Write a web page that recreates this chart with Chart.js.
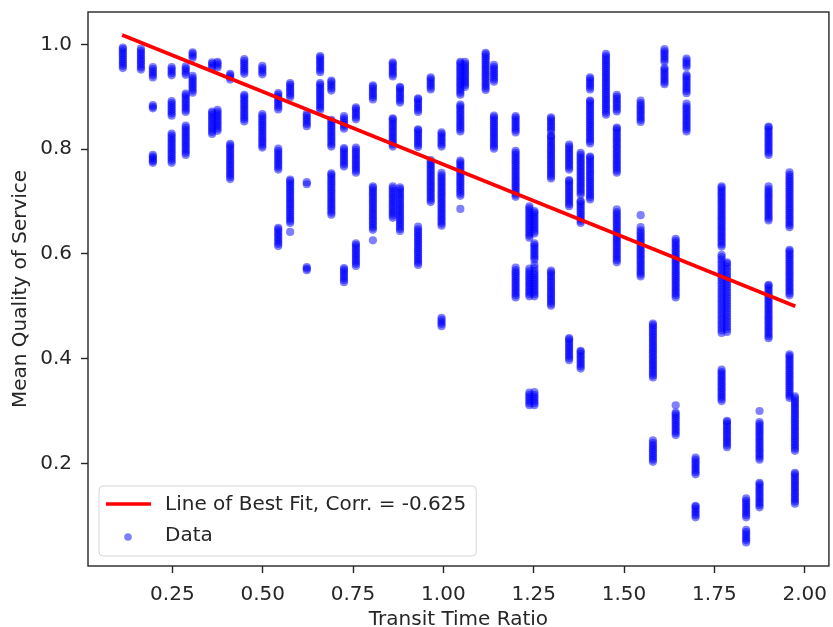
<!DOCTYPE html>
<html>
<head>
<meta charset="utf-8">
<script src="https://cdn.jsdelivr.net/npm/chart.js@4.4.1/dist/chart.umd.min.js"></script>
<style>
  html, body { margin: 0; padding: 0; background: #fff; }
  #wrap { width: 833px; height: 627px; position: relative; }
</style>
</head>
<body>
<div id="wrap"><canvas id="chart"></canvas></div>
<script>
// x position of each column of points (transit time ratio)
const transitRatio = [
    0.113, 0.163, 0.196, 0.248, 0.287, 0.306, 0.36, 0.375, 0.41, 0.449,
    0.499, 0.543, 0.576, 0.622, 0.659, 0.69, 0.725, 0.758, 0.805, 0.86,
    0.88, 0.93, 0.965, 0.995, 1.047, 1.06, 1.117, 1.14, 1.2, 1.238,
    1.252, 1.298, 1.348, 1.38, 1.406, 1.45, 1.48, 1.546, 1.58, 1.612,
    1.643, 1.673, 1.698, 1.77, 1.785, 1.838, 1.875, 1.9, 1.958, 1.973
];

// mean quality of service values, one list per column above
const qualityByRatio = [
    [0.955,0.959,0.963,0.967,0.971,0.975,0.979,0.983,0.987,0.991,0.994],
    [0.952,0.956,0.960,0.964,0.968,0.972,0.976,0.980,0.984,0.988,0.992],
    [0.937,0.941,0.945,0.949,0.953,0.957, 0.878,0.881,0.884, 0.774,0.777,0.780,0.783,0.786,0.789],
    [0.941,0.945,0.949,0.953,0.957, 0.864,0.868,0.872,0.876,0.880,0.884,0.888,0.892,
     0.774,0.778,0.782,0.786,0.790,0.794,0.798,0.802,0.806,0.810,0.814,0.818,0.822,0.826,0.830],
    [0.942,0.946,0.950,0.954,0.958, 0.871,0.875,0.879,0.883,0.887,0.891,0.895,0.899,0.903,0.906,
     0.789,0.793,0.797,0.801,0.805,0.809,0.813,0.817,0.821,0.825,0.829,0.833,0.837,0.841,0.845],
    [0.974,0.978,0.982,0.985, 0.908,0.912,0.916,0.920,0.924,0.928,0.932,0.936,0.940],
    [0.955,0.959,0.963,0.966, 0.829,0.833,0.837,0.841,0.845,0.849,0.853,0.857,0.861,0.865,0.869,0.872],
    [0.956,0.960,0.964,0.967, 0.835,0.839,0.843,0.847,0.851,0.855,0.859,0.863,0.867,0.871,0.875],
    [0.933,0.937,0.941,0.944, 0.743,0.747,0.751,0.755,0.759,0.763,0.767,0.771,0.775,0.779,0.783,0.787,0.791,0.795,0.799,0.803,0.807,0.810],
    [0.944,0.948,0.952,0.956,0.960,0.964,0.968,0.972,
     0.853,0.857,0.861,0.865,0.869,0.873,0.877,0.881,0.885,0.889,0.893,0.897,0.901,0.904],
    [0.943,0.947,0.951,0.955,0.959,
     0.803,0.807,0.811,0.815,0.819,0.823,0.827,0.831,0.835,0.839,0.843,0.847,0.851,0.855,0.859,0.863,0.867],
    [0.876,0.880,0.884,0.888,0.892,0.896,0.900,0.904,0.907,
     0.761,0.765,0.769,0.773,0.777,0.781,0.785,0.789,0.793,0.797,0.801,
     0.615,0.619,0.623,0.627,0.631,0.635,0.639,0.643,0.647,0.650],
    [0.899,0.903,0.907,0.911,0.915,0.919,0.923,0.926,
     0.659,0.663,0.667,0.671,0.675,0.679,0.683,0.687,0.691,0.695,0.699,0.703,0.707,0.711,0.715,0.719,0.723,0.727,0.731,0.735,0.739,0.742,
     0.642],
    [0.844,0.848,0.852,0.856,0.860,0.864,0.868, 0.733,0.737, 0.569,0.572,0.575],
    [0.947,0.951,0.955,0.959,0.963,0.967,0.971,0.975,0.978,
     0.875,0.879,0.883,0.887,0.891,0.895,0.899,0.903,0.907,0.911,0.915,0.919,0.923,0.926],
    [0.912,0.916,0.920,0.924,0.928,0.931,
     0.805,0.809,0.813,0.817,0.821,0.825,0.829,0.833,0.837,0.841,0.845,0.849,0.853,0.856,
     0.675,0.679,0.683,0.687,0.691,0.695,0.699,0.703,0.707,0.711,0.715,0.719,0.723,0.727,0.731,0.735,0.739,0.743,0.747,0.751,0.754],
    [0.839,0.843,0.847,0.851,0.855,0.859,0.863,
     0.767,0.771,0.775,0.779,0.783,0.787,0.791,0.795,0.799,0.802,
     0.546,0.550,0.554,0.558,0.562,0.566,0.570,0.573],
    [0.857,0.861,0.865,0.869,0.873,0.877,0.880,
     0.755,0.759,0.763,0.767,0.771,0.775,0.779,0.783,0.787,0.791,0.795,0.799,0.803,
     0.577,0.581,0.585,0.589,0.593,0.597,0.601,0.605,0.609,0.613,0.617,0.620],
    [0.895,0.899,0.903,0.907,0.911,0.915,0.919,0.922,
     0.646,0.650,0.654,0.658,0.662,0.666,0.670,0.674,0.678,0.682,0.686,0.690,0.694,0.698,0.702,0.706,0.710,0.714,0.718,0.722,0.726,0.729,
     0.626],
    [0.939,0.943,0.947,0.951,0.955,0.959,0.963,0.966,
     0.805,0.809,0.813,0.817,0.821,0.825,0.829,0.833,0.837,0.841,0.845,0.849,0.853,0.857,0.859,
     0.669,0.673,0.677,0.681,0.685,0.689,0.693,0.697,0.701,0.705,0.709,0.713,0.717,0.721,0.725,0.729],
    [0.889,0.893,0.897,0.901,0.905,0.909,0.913,0.917,0.919,
     0.644,0.648,0.652,0.656,0.660,0.664,0.668,0.672,0.676,0.680,0.684,0.688,0.692,0.696,0.700,0.704,0.708,0.712,0.716,0.720,0.724,0.727],
    [0.871,0.875,0.879,0.883,0.887,0.891,0.895,0.897,
     0.804,0.808,0.812,0.816,0.820,0.824,0.828,0.832,0.836,0.838,
     0.579,0.583,0.587,0.591,0.595,0.599,0.603,0.607,0.611,0.615,0.619,0.623,0.627,0.631,0.635,0.639,0.643,0.647,0.652],
    [0.914,0.918,0.922,0.926,0.930,0.934,0.937,
     0.699,0.703,0.707,0.711,0.715,0.719,0.723,0.727,0.731,0.735,0.739,0.743,0.747,0.751,0.755,0.759,0.763,0.767,0.771,0.775,0.779],
    [0.805,0.809,0.813,0.817,0.821,0.825,0.829,0.832,
     0.654,0.658,0.662,0.666,0.670,0.674,0.678,0.682,0.686,0.690,0.694,0.698,0.702,0.706,0.710,0.714,0.718,0.722,0.726,0.730,0.734,0.738,0.742,0.746,0.750,0.755,
     0.462,0.466,0.470,0.474,0.478],
    [0.904,0.908,0.912,0.916,0.920,0.924,0.928,0.932,0.936,0.940,0.944,0.948,0.952,0.956,0.960,0.964,0.967,
     0.834,0.838,0.842,0.846,0.850,0.854,0.858,0.862,0.866,0.870,0.874,0.878,0.882,0.885,
     0.711,0.715,0.719,0.723,0.727,0.731,0.735,0.739,0.743,0.747,0.751,0.755,0.759,0.763,0.767,0.771,0.775,0.778,
     0.686],
    [0.919,0.923,0.927,0.931,0.935,0.939,0.943,0.947,0.951,0.955,0.959,0.963,0.967],
    [0.913,0.917,0.921,0.925,0.929,0.933,0.937,0.941,0.945,0.949,0.953,0.957,0.961,0.965,0.969,0.973,0.977,0.981,0.984],
    [0.929,0.933,0.937,0.941,0.945,0.949,0.953,0.957,0.961,
     0.801,0.805,0.809,0.813,0.817,0.821,0.825,0.829,0.833,0.837,0.841,0.845,0.849,0.853,0.857,0.861,0.864],
    [0.832,0.836,0.840,0.844,0.848,0.852,0.856,0.860,0.863,
     0.709,0.713,0.717,0.721,0.725,0.729,0.733,0.737,0.741,0.745,0.749,0.753,0.757,0.761,0.765,0.769,0.773,0.777,0.781,0.785,0.789,0.793,0.797,
     0.517,0.521,0.525,0.529,0.533,0.537,0.541,0.545,0.549,0.553,0.557,0.561,0.565,0.569,0.574],
    [0.631,0.635,0.639,0.643,0.647,0.651,0.655,0.659,0.663,0.667,0.671,0.675,0.679,0.683,0.687,0.691,
     0.519,0.523,0.527,0.531,0.535,0.539,0.543,0.547,0.551,0.555,0.559,0.563,0.567,0.572,
     0.311,0.315,0.319,0.323,0.327,0.331,0.335],
    [0.639,0.643,0.647,0.651,0.655,0.659,0.663,0.667,0.671,0.675,0.679,0.682,
     0.589,0.593,0.597,0.601,0.605,0.609,0.613,0.617,0.620, 0.579,
     0.519,0.523,0.527,0.531,0.535,0.539,0.543,0.547,0.551,0.555,0.559,0.563,0.567,0.573,
     0.311,0.315,0.319,0.323,0.327,0.331,0.336],
    [0.834,0.838,0.842,0.846,0.850,0.854,0.858,0.861,
     0.744,0.748,0.752,0.756,0.760,0.764,0.768,0.772,0.776,0.780,0.784,0.788,0.792,0.796,0.800,0.804,0.808,0.812,0.816,0.820,0.824,0.826,
     0.501,0.505,0.509,0.513,0.517,0.521,0.525,0.529,0.533,0.537,0.541,0.545,0.549,0.553,0.557,0.561,0.565,0.568],
    [0.761,0.765,0.769,0.773,0.777,0.781,0.785,0.789,0.793,0.797,0.801,0.805,0.809,
     0.691,0.695,0.699,0.703,0.707,0.711,0.715,0.719,0.723,0.727,0.731,0.735,0.739,0.741,
     0.397,0.401,0.405,0.409,0.413,0.417,0.421,0.425,0.429,0.433,0.437,0.439],
    [0.713,0.717,0.721,0.725,0.729,0.733,0.737,0.741,0.745,0.749,0.753,0.757,0.761,0.765,0.769,0.773,0.777,0.781,0.785,0.789,0.793,
     0.659,0.663,0.667,0.671,0.675,0.679,0.683,0.687,0.691,0.695,0.699,0.701,
     0.381,0.385,0.389,0.393,0.397,0.401,0.405,0.409,0.413,0.415],
    [0.914,0.918,0.922,0.926,0.930,0.934,0.937,
     0.811,0.815,0.819,0.823,0.827,0.831,0.835,0.839,0.843,0.847,0.851,0.855,0.859,0.863,0.867,0.871,0.875,0.879,0.883,0.887,0.891,0.893,
     0.704,0.708,0.712,0.716,0.720,0.724,0.728,0.732,0.736,0.740,0.744,0.748,0.752,0.756,0.760,0.764,0.768,0.772,0.776,0.780,0.784,0.786],
    [0.866,0.870,0.874,0.878,0.882,0.886,0.890,0.894,0.898,0.902,0.906,0.910,0.914,0.918,0.922,
     0.926,0.930,0.934,0.938,0.942,0.946,0.950,0.954,0.958,0.962,0.966,0.970,0.974,0.978,0.982],
    [0.872,0.876,0.880,0.884,0.888,0.892,0.896,0.900,0.904,
     0.755,0.759,0.763,0.767,0.771,0.775,0.779,0.783,0.787,0.791,0.795,0.799,0.803,0.807,0.811,0.815,0.819,0.823,0.827,0.831,0.835,0.839,0.841,
     0.584,0.588,0.592,0.596,0.600,0.604,0.608,0.612,0.616,0.620,0.624,0.628,0.632,0.636,0.640,0.644,0.648,0.652,0.656,0.660,0.664,0.668,0.672,0.676,0.680,0.685],
    [0.852,0.856,0.860,0.864,0.868,0.872,0.876,0.880,0.884,0.888,0.893,
     0.674,
     0.557,0.561,0.565,0.569,0.573,0.577,0.581,0.585,0.589,0.593,0.597,0.601,0.605,0.609,0.613,0.617,0.621,0.625,0.629,0.633,0.637,0.641,0.645,0.651],
    [0.364,0.368,0.372,0.376,0.380,0.384,0.388,0.392,0.396,0.400,0.404,0.408,0.412,0.416,0.420,0.424,0.428,0.432,0.436,0.440,0.444,0.448,0.452,0.456,0.460,0.464,0.467,
     0.203,0.207,0.211,0.215,0.219,0.223,0.227,0.231,0.235,0.239,0.244],
    [0.967,0.971,0.975,0.979,0.983,0.987,0.991, 0.924,0.928,0.932,0.936,0.940,0.944,0.948,0.952,0.955],
    [0.517,0.521,0.525,0.529,0.533,0.537,0.541,0.545,0.549,0.553,0.557,0.561,0.565,0.569,0.573,0.577,0.581,0.585,0.589,0.593,0.597,0.601,0.605,0.609,0.613,0.617,0.621,0.625,0.629,
     0.311,
     0.254,0.258,0.262,0.266,0.270,0.274,0.278,0.282,0.286,0.290,0.294,0.297],
    [0.957,0.961,0.965,0.969,0.973,
     0.907,0.911,0.915,0.919,0.923,0.927,0.931,0.935,0.939,0.942,
     0.834,0.838,0.842,0.846,0.850,0.854,0.858,0.862,0.866,0.870,0.874,0.878,0.882,0.887],
    [0.179,0.183,0.187,0.191,0.195,0.199,0.203,0.207,0.211, 0.097,0.101,0.105,0.109,0.113,0.117,0.119],
    [0.614,0.618,0.622,0.626,0.630,0.634,0.638,0.642,0.646,0.650,0.654,0.658,0.662,0.666,0.670,0.674,0.678,0.682,0.686,0.690,0.694,0.698,0.702,0.706,0.710,0.714,0.718,0.722,0.726,0.729,
     0.449,0.454,0.459,0.464,0.469,0.474,0.479,0.484,0.489,0.494,0.499,0.504,0.509,0.514,0.519,0.524,0.529,0.534,0.539,0.544,0.549,0.554,0.559,0.564,0.569,0.574,0.579,0.584,0.589,0.594,0.598,
     0.319,0.323,0.327,0.331,0.335,0.339,0.343,0.347,0.351,0.355,0.359,0.363,0.367,0.371,0.375,0.379],
    [0.451,0.456,0.461,0.466,0.471,0.476,0.481,0.486,0.491,0.496,0.501,0.506,0.511,0.516,0.521,0.526,0.531,0.536,0.541,0.546,0.551,0.556,0.561,0.566,0.571,0.576,0.581,0.584,
     0.231,0.235,0.239,0.243,0.247,0.251,0.255,0.259,0.263,0.267,0.271,0.275,0.279,0.281],
    [0.097,0.101,0.105,0.109,0.113,0.117,0.121,0.125,0.129,0.133, 0.049,0.053,0.057,0.061,0.065,0.069,0.073],
    [0.300,
     0.207,0.211,0.215,0.219,0.223,0.227,0.231,0.235,0.239,0.243,0.247,0.251,0.255,0.259,0.263,0.267,0.271,0.275,0.279,
     0.116,0.120,0.124,0.128,0.132,0.136,0.140,0.144,0.148,0.152,0.156,0.160,0.163],
    [0.789,0.793,0.797,0.801,0.805,0.809,0.813,0.817,0.821,0.825,0.829,0.833,0.837,0.841,0.843,
     0.664,0.668,0.672,0.676,0.680,0.684,0.688,0.692,0.696,0.700,0.704,0.708,0.712,0.716,0.720,0.724,0.729,
     0.439,0.443,0.447,0.451,0.455,0.459,0.463,0.467,0.471,0.475,0.479,0.483,0.487,0.491,0.495,0.499,0.503,0.507,0.511,0.515,0.519,0.523,0.527,0.531,0.535,0.539,0.541],
    [0.651,0.655,0.659,0.663,0.667,0.671,0.675,0.679,0.683,0.687,0.691,0.695,0.699,0.703,0.707,0.711,0.715,0.719,0.723,0.727,0.731,0.735,0.739,0.743,0.747,0.751,0.756,
     0.521,0.525,0.529,0.533,0.537,0.541,0.545,0.549,0.553,0.557,0.561,0.565,0.569,0.573,0.577,0.581,0.585,0.589,0.593,0.597,0.601,0.605,0.608,
     0.325,0.329,0.333,0.337,0.341,0.345,0.349,0.353,0.357,0.361,0.365,0.369,0.373,0.377,0.381,0.385,0.389,0.393,0.397,0.401,0.405,0.408],
    [0.224,0.228,0.232,0.236,0.240,0.244,0.248,0.252,0.256,0.260,0.264,0.268,0.272,0.276,0.280,0.284,0.288,0.292,0.296,0.300,0.304,0.308,0.312,0.316,0.320,0.324,0.328,
     0.123,0.127,0.131,0.135,0.139,0.143,0.147,0.151,0.155,0.159,0.163,0.167,0.171,0.175,0.179,0.182]
];

// line of best fit end points
const fitX = [0.111, 1.974];
const fitY = [1.018, 0.5];

const xTicks = [0.25, 0.5, 0.75, 1.0, 1.25, 1.5, 1.75, 2.0];
const yTicks = [0.2, 0.4, 0.6, 0.8, 1.0];

const fitLabel = 'Line of Best Fit, Corr. = -0.625';
const dataLabel = 'Data';

const FONT = 'DejaVu Sans';
const FONT_SIZE = 20;
const pointColor = 'rgba(0, 0, 255, 0.5)';
const inkColor = '#262626';

// flatten columns into scatter points
const points = [];
transitRatio.forEach((x, i) => {
    qualityByRatio[i].forEach(y => points.push({ x: x, y: y }));
});

// matplotlib style box round the plot
const framePlugin = {
    id: 'frame',
    afterDatasetsDraw(chart) {
        const { ctx, chartArea: a } = chart;
        ctx.save();
        ctx.strokeStyle = inkColor;
        ctx.lineWidth = 1.4;
        ctx.strokeRect(a.left, a.top, a.right - a.left, a.bottom - a.top);
        ctx.restore();
    }
};

// legend in the lower left corner, inside the plot
const legendPlugin = {
    id: 'innerLegend',
    afterDraw(chart) {
        const { ctx, chartArea: a } = chart;
        ctx.save();
        ctx.font = FONT_SIZE + 'px "' + FONT + '"';
        const boxX = a.left + 11;
        const boxH = 70;
        const boxY = a.bottom - 10 - boxH;
        const textX = boxX + 66;
        const boxW = textX - boxX + ctx.measureText(fitLabel).width + 10;

        ctx.beginPath();
        ctx.roundRect(boxX, boxY, boxW, boxH, 4);
        ctx.fillStyle = 'rgba(255,255,255,0.8)';
        ctx.fill();
        ctx.strokeStyle = '#d6d6d6';
        ctx.lineWidth = 1;
        ctx.stroke();

        const row1 = boxY + 18;
        const row2 = boxY + 51;

        ctx.beginPath();
        ctx.moveTo(boxX + 7, row1);
        ctx.lineTo(boxX + 52, row1);
        ctx.strokeStyle = 'red';
        ctx.lineWidth = 3.7;
        ctx.stroke();

        ctx.beginPath();
        ctx.arc(boxX + 29, row2, 3.8, 0, Math.PI * 2);
        ctx.fillStyle = pointColor;
        ctx.fill();

        ctx.fillStyle = inkColor;
        ctx.textBaseline = 'middle';
        ctx.textAlign = 'left';
        ctx.fillText(fitLabel, textX, row1 + 1);
        ctx.fillText(dataLabel, textX, row2 - 1);
        ctx.restore();
    }
};

new Chart(document.getElementById('chart'), {
    type: 'scatter',
    data: {
        datasets: [
            {
                type: 'line',
                label: fitLabel,
                data: fitX.map((x, i) => ({ x: x, y: fitY[i] })),
                borderColor: 'red',
                borderWidth: 3.7,
                pointRadius: 0,
                fill: false
            },
            {
                label: dataLabel,
                data: points,
                backgroundColor: pointColor,
                borderWidth: 0,
                pointRadius: 4.1
            }
        ]
    },
    options: {
        responsive: true,
        maintainAspectRatio: false,
        animation: false,
        events: [],
        layout: { padding: { top: 12, right: 1, bottom: 0, left: 0 } },
        plugins: {
            legend: { display: false },
            tooltip: { enabled: false }
        },
        scales: {
            x: {
                type: 'linear',
                min: 0.0165,
                max: 2.067,
                afterBuildTicks: s => { s.ticks = xTicks.map(v => ({ value: v })); },
                afterFit: s => {
                    s.height = 61;
                    s.paddingLeft = 0;
                    s.paddingRight = 0;
                },
                ticks: {
                    callback: v => v.toFixed(2),
                    font: { family: FONT, size: FONT_SIZE },
                    color: inkColor,
                    padding: 10,
                    maxRotation: 0,
                    autoSkip: false
                },
                grid: { drawOnChartArea: false, drawTicks: true, tickLength: 7, tickWidth: 1.4, tickColor: inkColor },
                border: { display: false },
                title: {
                    display: true,
                    text: 'Transit Time Ratio',
                    font: { family: FONT, size: FONT_SIZE, lineHeight: 1 },
                    color: inkColor,
                    padding: { top: 0, bottom: -3 }
                }
            },
            y: {
                type: 'linear',
                min: 0.004,
                max: 1.062,
                afterBuildTicks: s => { s.ticks = yTicks.map(v => ({ value: v })); },
                afterFit: s => {
                    s.width = 88;
                    s.paddingTop = 0;
                    s.paddingBottom = 0;
                },
                ticks: {
                    callback: v => v.toFixed(1),
                    font: { family: FONT, size: FONT_SIZE },
                    color: inkColor,
                    padding: 9,
                    autoSkip: false
                },
                grid: { drawOnChartArea: false, drawTicks: true, tickLength: 7, tickWidth: 1.4, tickColor: inkColor },
                border: { display: false },
                title: {
                    display: true,
                    text: 'Mean Quality of Service',
                    font: { family: FONT, size: FONT_SIZE, lineHeight: 1 },
                    color: inkColor,
                    padding: { top: 11, bottom: 0 }
                }
            }
        }
    },
    plugins: [framePlugin, legendPlugin]
});
</script>
</body>
</html>
